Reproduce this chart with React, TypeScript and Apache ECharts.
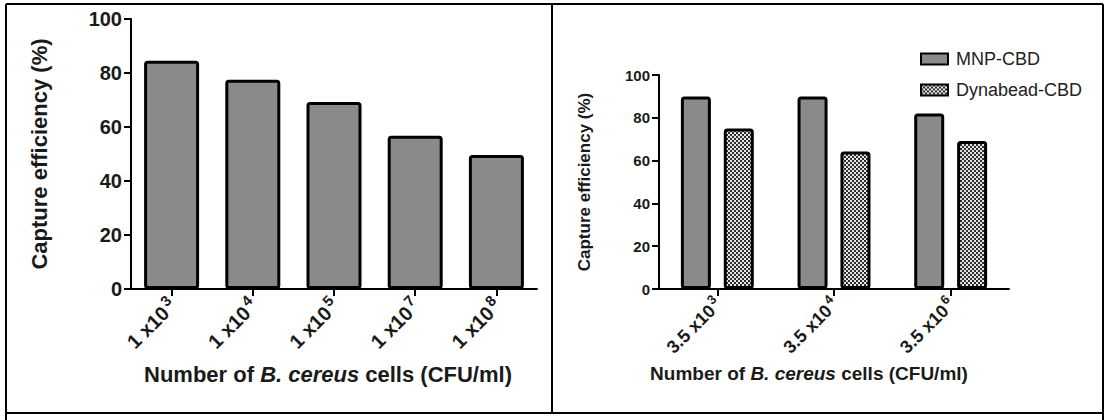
import React, { useEffect, useRef } from "react";
import * as echarts from "echarts";

const FONT = "'Liberation Sans', Arial, sans-serif";

// Left panel
const leftCategories = ["1 x10^3", "1 x10^4", "1 x10^5", "1 x10^7", "1 x10^8"];
const leftValues = [84.5, 77.5, 69.3, 56.8, 49.6];

// Right panel
const rightCategories = ["3.5 x10^3", "3.5 x10^4", "3.5 x10^6"];
const mnpValues = [89.9, 89.9, 82.0];
const dynaValues = [75.0, 64.2, 69.2];

const seriesNames = ["MNP-CBD", "Dynabead-CBD"];
const yTitle = "Capture efficiency (%)";
const xTitle = "Number of {i|B. cereus} cells (CFU/ml)";

function supFormatter(v: string) {
  const [b, e] = v.split("^");
  return `{b|${b}}{s|${e}}`;
}

function makeChecker() {
  const cv = document.createElement("canvas");
  cv.width = 4;
  cv.height = 4;
  const ctx = cv.getContext("2d")!;
  ctx.fillStyle = "#e6e6e6";
  ctx.fillRect(0, 0, 4, 4);
  ctx.fillStyle = "#2e2e2e";
  ctx.fillRect(0, 0, 2, 2);
  ctx.fillRect(2, 2, 2, 2);
  return cv;
}

export default function App() {
  const ref = useRef<HTMLDivElement>(null);
  useEffect(() => {
    document.body.style.margin = "0";
    const chart = echarts.init(ref.current!, null, { renderer: "svg" });
    const checker = makeChecker();
    const gray = "#8a8a8a";
    const axisLine = { show: true, lineStyle: { color: "#000", width: 2 } };
    const axisTick = { show: true, length: 7, lineStyle: { color: "#000", width: 2 } };
    const richX = (size: number, sup: number) => ({
      b: { fontSize: size, fontWeight: "bold", fontFamily: FONT, color: "#1a1a1a", lineHeight: size + 4, verticalAlign: "bottom" },
      s: { fontSize: sup, fontWeight: "bold", fontFamily: FONT, color: "#1a1a1a", lineHeight: sup + 1, verticalAlign: "top", padding: [0, 0, 0, 2] },
    });
    const titleStyle = (size: number) => ({
      fontSize: size,
      fontWeight: "bold",
      fontFamily: FONT,
      fill: "#1a1a1a",
      align: "center",
      verticalAlign: "middle",
    });
    const frame = { stroke: "#000", lineWidth: 2 };
    chart.setOption({
      animation: false,
      backgroundColor: "#fff",
      grid: [
        { left: 131, width: 406, top: 19, height: 270 },
        { left: 659, width: 350, top: 75, height: 214 },
      ],
      xAxis: [
        {
          type: "category",
          gridIndex: 0,
          data: leftCategories,
          axisLine,
          axisTick: { ...axisTick, alignWithLabel: true },
          axisLabel: { interval: 0, rotate: 45, margin: 12, formatter: supFormatter, rich: richX(20, 15) },
        },
        {
          type: "category",
          gridIndex: 1,
          data: rightCategories,
          axisLine,
          axisTick: { ...axisTick, alignWithLabel: true },
          axisLabel: { interval: 0, rotate: 45, margin: 11, formatter: supFormatter, rich: richX(18, 13) },
        },
      ],
      yAxis: [
        {
          type: "value",
          gridIndex: 0,
          min: 0,
          max: 100,
          interval: 20,
          splitLine: { show: false },
          axisLine,
          axisTick,
          axisLabel: { fontSize: 20, fontWeight: "bold", fontFamily: FONT, color: "#1a1a1a", margin: 9 },
        },
        {
          type: "value",
          gridIndex: 1,
          min: 0,
          max: 100,
          interval: 20,
          splitLine: { show: false },
          axisLine,
          axisTick,
          axisLabel: { fontSize: 15, fontWeight: "bold", fontFamily: FONT, color: "#1a1a1a", margin: 9 },
        },
      ],
      legend: {
        data: seriesNames,
        orient: "vertical",
        left: 915,
        top: 45,
        itemWidth: 27,
        itemHeight: 11,
        itemGap: 13,
        icon: "rect",
        textStyle: { fontSize: 18, fontFamily: FONT, color: "#222", padding: [0, 0, 0, 3] },
      },
      series: [
        {
          name: "Capture efficiency",
          type: "bar",
          xAxisIndex: 0,
          yAxisIndex: 0,
          data: leftValues,
          barWidth: 55,
          itemStyle: { color: gray, borderColor: "#000", borderWidth: 3, borderRadius: 2 },
        },
        {
          name: seriesNames[0],
          type: "bar",
          xAxisIndex: 1,
          yAxisIndex: 1,
          data: mnpValues,
          barWidth: 30,
          barGap: "43%",
          itemStyle: { color: gray, borderColor: "#000", borderWidth: 3, borderRadius: 2 },
        },
        {
          name: seriesNames[1],
          type: "bar",
          xAxisIndex: 1,
          yAxisIndex: 1,
          data: dynaValues,
          barWidth: 30,
          barGap: "43%",
          itemStyle: { color: { image: checker, repeat: "repeat" }, borderColor: "#000", borderWidth: 3, borderRadius: 2 },
        },
      ],
      graphic: [
        { type: "line", shape: { x1: 6, y1: 4, x2: 1103, y2: 4 }, style: frame },
        { type: "line", shape: { x1: 6, y1: 413, x2: 1103, y2: 413 }, style: frame },
        { type: "line", shape: { x1: 6, y1: 4, x2: 6, y2: 420 }, style: frame },
        { type: "line", shape: { x1: 1103, y1: 4, x2: 1103, y2: 420 }, style: frame },
        { type: "line", shape: { x1: 552, y1: 4, x2: 552, y2: 413 }, style: frame },
        { type: "text", x: 39, y: 154, rotation: Math.PI / 2, style: { text: yTitle, ...titleStyle(22) } },
        { type: "text", x: 584, y: 182, rotation: Math.PI / 2, style: { text: yTitle, ...titleStyle(17) } },
        {
          type: "text",
          x: 328,
          y: 374,
          style: {
            text: xTitle,
            ...titleStyle(22),
            rich: { i: { fontSize: 22, fontWeight: "bold", fontStyle: "italic", fontFamily: FONT, fill: "#1a1a1a" } },
          },
        },
        {
          type: "text",
          x: 809,
          y: 373,
          style: {
            text: xTitle,
            ...titleStyle(19),
            rich: { i: { fontSize: 19, fontWeight: "bold", fontStyle: "italic", fontFamily: FONT, fill: "#1a1a1a" } },
          },
        },
      ],
    });
    return () => chart.dispose();
  }, []);
  return <div ref={ref} style={{ width: 1109, height: 420 }} />;
}
